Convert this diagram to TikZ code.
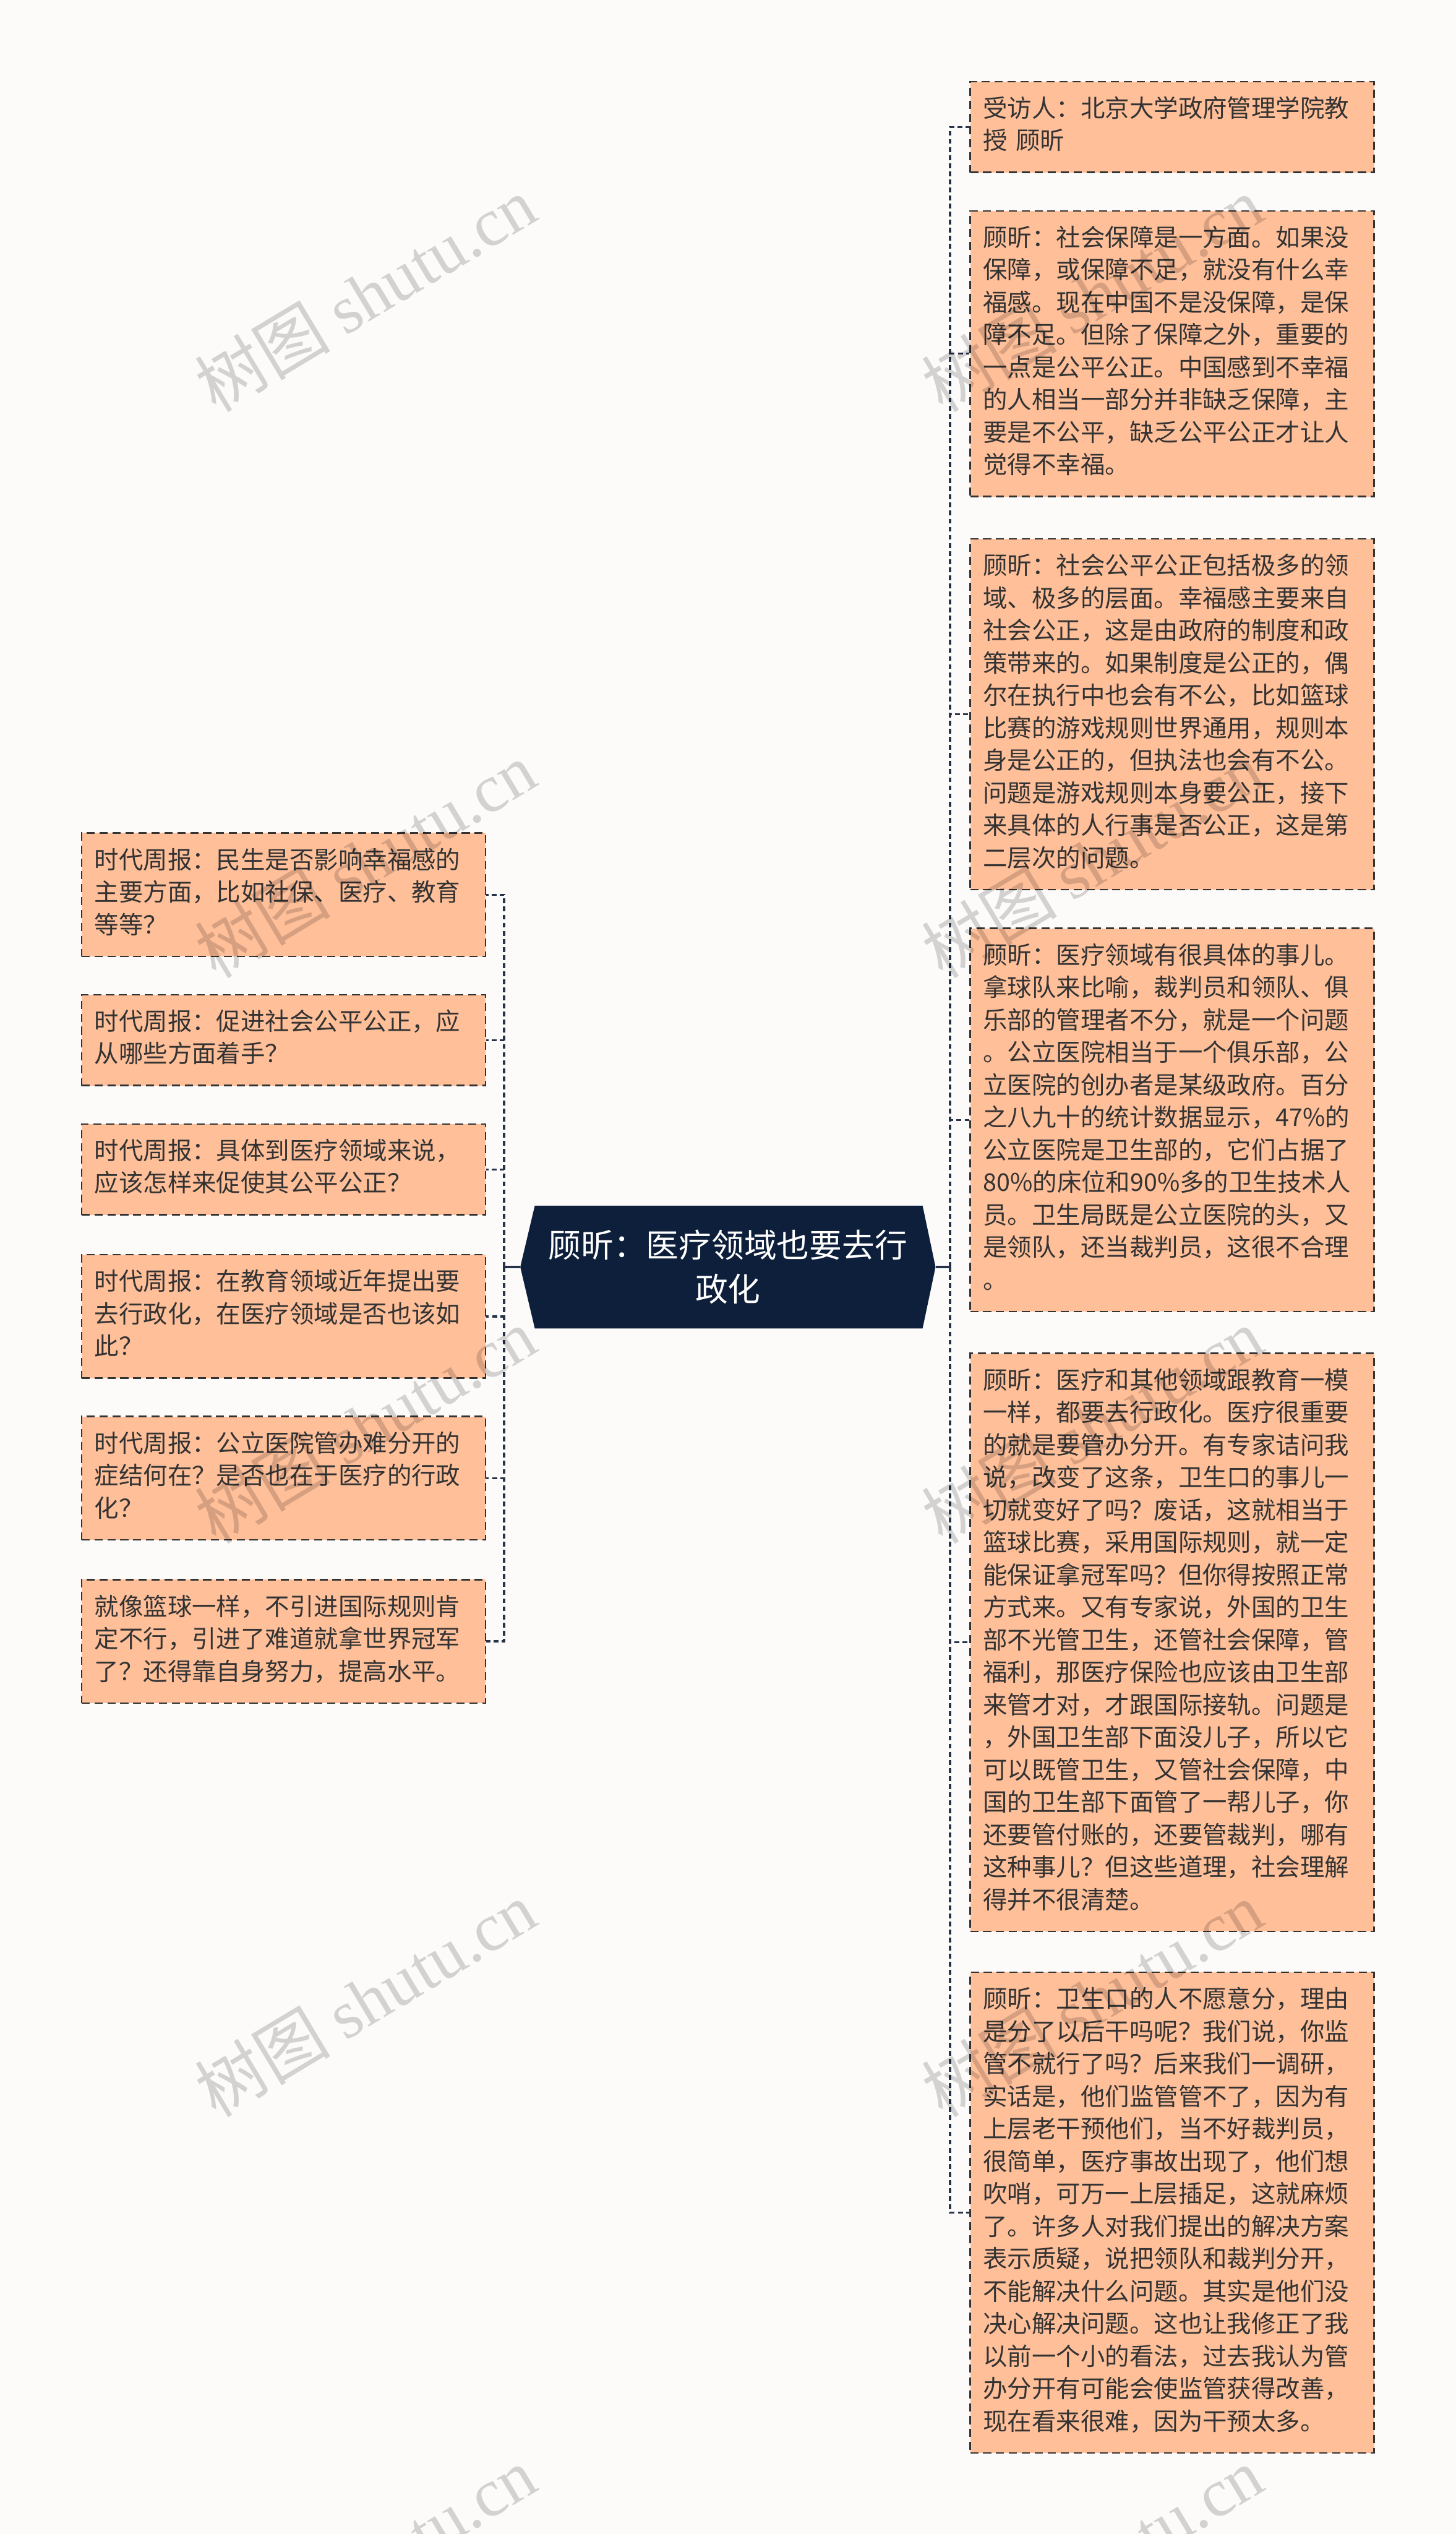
\documentclass[tikz,border=0pt]{standalone}
\usepackage{fontspec}
\setmainfont{Noto Sans CJK SC}
\newfontfamily\wmlatin{Liberation Serif}
\definecolor{bgc}{RGB}{253,251,250}
\definecolor{peach}{RGB}{255,191,153}
\definecolor{navy}{RGB}{13,31,58}
\definecolor{linec}{RGB}{38,50,72}
\definecolor{txt}{RGB}{51,51,51}
\begin{document}
\begin{tikzpicture}[x=1pt,y=-1pt,
  leaf/.style={draw=txt, line width=0.9pt, dash pattern=on 5pt off 3pt, fill=peach, text=txt,
    anchor=north west, inner xsep=8pt, inner ysep=8pt, text width=234pt, align=left,
    font=\fontsize{15.1}{20.1}\selectfont},
  conn/.style={draw=linec, line width=1.2pt, dash pattern=on 3pt off 2pt},
  stub/.style={draw=linec, line width=1.2pt},
  wm/.style={text=black, opacity=0.16, rotate=31, inner sep=0pt, font=\fontsize{42}{42}\selectfont}]
\fill[bgc] (0,0) rectangle (901,1568);
\useasboundingbox (0,0) rectangle (901,1568);

% central topic
\fill[navy] (322,784) -- (331,746) -- (571,746) -- (579,784) -- (571,822) -- (331,822) -- cycle;
\node[minimum width=257pt, minimum height=76pt, inner sep=0pt, text=white, align=center,
  font=\fontsize{20.2}{27}\selectfont] (c) at (450.5,784) {顾昕：医疗领域也要去行\\政化};

% right nodes
\node[leaf] (R1) at (600,50) {\strut 受访人：北京大学政府管理学院教\\授 顾昕\strut};
\node[leaf] (R2) at (600,130) {\strut 顾昕：社会保障是一方面。如果没\\保障，或保障不足，就没有什么幸\\福感。现在中国不是没保障，是保\\障不足。但除了保障之外，重要的\\一点是公平公正。中国感到不幸福\\的人相当一部分并非缺乏保障，主\\要是不公平，缺乏公平公正才让人\\觉得不幸福。\strut};
\node[leaf] (R3) at (600,333) {\strut 顾昕：社会公平公正包括极多的领\\域、极多的层面。幸福感主要来自\\社会公正，这是由政府的制度和政\\策带来的。如果制度是公正的，偶\\尔在执行中也会有不公，比如篮球\\比赛的游戏规则世界通用，规则本\\身是公正的，但执法也会有不公。\\问题是游戏规则本身要公正，接下\\来具体的人行事是否公正，这是第\\二层次的问题。\strut};
\node[leaf] (R4) at (600,574) {\strut 顾昕：医疗领域有很具体的事儿。\\拿球队来比喻，裁判员和领队、俱\\乐部的管理者不分，就是一个问题\\。公立医院相当于一个俱乐部，公\\立医院的创办者是某级政府。百分\\之八九十的统计数据显示，47\%的\\公立医院是卫生部的，它们占据了\\80\%的床位和90\%多的卫生技术人\\员。卫生局既是公立医院的头，又\\是领队，还当裁判员，这很不合理\\。\strut};
\node[leaf] (R5) at (600,837) {\strut 顾昕：医疗和其他领域跟教育一模\\一样，都要去行政化。医疗很重要\\的就是要管办分开。有专家诘问我\\说，改变了这条，卫生口的事儿一\\切就变好了吗？废话，这就相当于\\篮球比赛，采用国际规则，就一定\\能保证拿冠军吗？但你得按照正常\\方式来。又有专家说，外国的卫生\\部不光管卫生，还管社会保障，管\\福利，那医疗保险也应该由卫生部\\来管才对，才跟国际接轨。问题是\\，外国卫生部下面没儿子，所以它\\可以既管卫生，又管社会保障，中\\国的卫生部下面管了一帮儿子，你\\还要管付账的，还要管裁判，哪有\\这种事儿？但这些道理，社会理解\\得并不很清楚。\strut};
\node[leaf] (R6) at (600,1220) {\strut 顾昕：卫生口的人不愿意分，理由\\是分了以后干吗呢？我们说，你监\\管不就行了吗？后来我们一调研，\\实话是，他们监管管不了，因为有\\上层老干预他们，当不好裁判员，\\很简单，医疗事故出现了，他们想\\吹哨，可万一上层插足，这就麻烦\\了。许多人对我们提出的解决方案\\表示质疑，说把领队和裁判分开，\\不能解决什么问题。其实是他们没\\决心解决问题。这也让我修正了我\\以前一个小的看法，过去我认为管\\办分开有可能会使监管获得改善，\\现在看来很难，因为干预太多。\strut};

% left nodes
\node[leaf] (L1) at (50,515) {\strut 时代周报：民生是否影响幸福感的\\主要方面，比如社保、医疗、教育\\等等？\strut};
\node[leaf] (L2) at (50,615) {\strut 时代周报：促进社会公平公正，应\\从哪些方面着手？\strut};
\node[leaf] (L3) at (50,695) {\strut 时代周报：具体到医疗领域来说，\\应该怎样来促使其公平公正？\strut};
\node[leaf] (L4) at (50,776) {\strut 时代周报：在教育领域近年提出要\\去行政化，在医疗领域是否也该如\\此？\strut};
\node[leaf] (L5) at (50,876) {\strut 时代周报：公立医院管办难分开的\\症结何在？是否也在于医疗的行政\\化？\strut};
\node[leaf] (L6) at (50,977) {\strut 就像篮球一样，不引进国际规则肯\\定不行，引进了难道就拿世界冠军\\了？还得靠自身努力，提高水平。\strut};

% connectors
\coordinate (rt) at (588,784);
\coordinate (lt) at (312,784);
\draw[stub] (c.east) -- (rt);
\draw[stub] (c.west) -- (lt);
\foreach \n in {R1,R2,R3,R4,R5,R6} \draw[conn] (rt) |- (\n.west);
\foreach \n in {L1,L2,L3,L4,L5,L6} \draw[conn] (lt) |- (\n.east);

% watermarks
\foreach \wx in {226,676} {
  \foreach \wy in {182,532,882,1237,1587} {
    \node[wm] at (\wx,\wy) {树图 {\wmlatin shutu.cn}};
  }
}
\end{tikzpicture}
\end{document}
